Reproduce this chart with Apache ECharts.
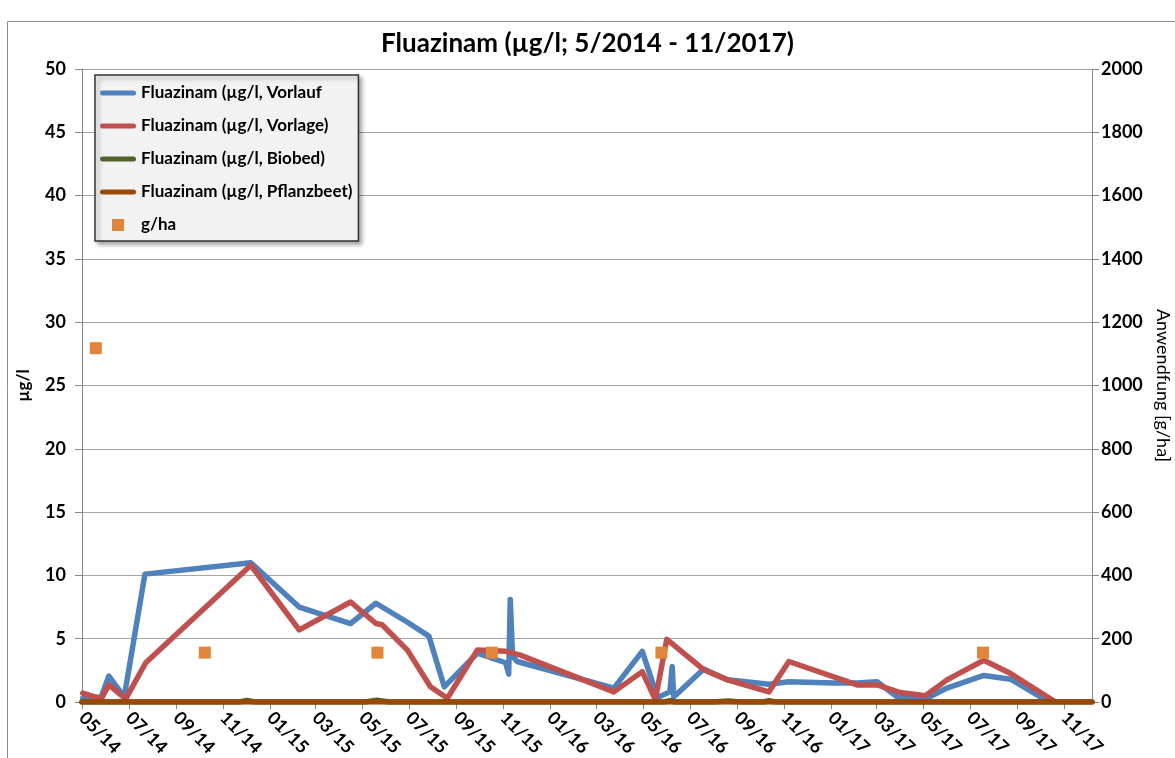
<!DOCTYPE html>
<html>
<head>
<meta charset="utf-8">
<script src="https://cdn.jsdelivr.net/npm/echarts@6/dist/echarts.min.js"></script>
<style>
  html, body { margin: 0; padding: 0; background: #fff; }
  #chart { width: 1175px; height: 758px; }
</style>
</head>
<body>
<div id="chart"></div>
<script>
// x axis tick labels (every 2 months)
const xTickLabels = ['05/14', '07/14', '09/14', '11/14', '01/15', '03/15', '05/15', '07/15', '09/15', '11/15',
  '01/16', '03/16', '05/16', '07/16', '09/16', '11/16', '01/17', '03/17', '05/17', '07/17', '09/17', '11/17'];

// Fluazinam, Vorlauf (µg/l)
const vorlauf = [
  ['2014-05-02', 0.3], ['2014-05-26', 0.4], ['2014-06-05', 2.05], ['2014-06-25', 0.4], ['2014-07-22', 10.1],
  ['2014-12-07', 11.0], ['2015-02-08', 7.5], ['2015-04-16', 6.2], ['2015-05-19', 7.8], ['2015-06-29', 6.3],
  ['2015-07-27', 5.2], ['2015-08-16', 1.2], ['2015-09-28', 3.85], ['2015-11-04', 3.1], ['2015-11-08', 2.2],
  ['2015-11-10', 8.1], ['2015-11-13', 3.6], ['2015-11-19', 3.2], ['2016-03-24', 1.1], ['2016-04-30', 4.0],
  ['2016-05-20', 0.35], ['2016-06-05', 0.8], ['2016-06-08', 2.8], ['2016-06-10', 0.4], ['2016-07-19', 2.6],
  ['2016-08-19', 1.75], ['2016-10-12', 1.4], ['2016-11-07', 1.6], ['2017-01-05', 1.5], ['2017-02-04', 1.5],
  ['2017-03-02', 1.6], ['2017-03-28', 0.4], ['2017-05-06', 0.3], ['2017-06-01', 1.1], ['2017-07-19', 2.1],
  ['2017-08-23', 1.8], ['2017-10-09', 0.1]
];

// Fluazinam, Vorlage (µg/l)
const vorlage = [
  ['2014-05-02', 0.7], ['2014-05-26', 0.25], ['2014-06-05', 1.35], ['2014-06-27', 0.25], ['2014-07-23', 3.1],
  ['2014-12-07', 10.8], ['2015-02-08', 5.7], ['2015-04-16', 7.9], ['2015-05-19', 6.2], ['2015-05-27', 6.1],
  ['2015-06-29', 4.1], ['2015-07-29', 1.2], ['2015-08-20', 0.3], ['2015-09-28', 4.1], ['2015-11-04', 4.0],
  ['2015-11-23', 3.7], ['2016-03-24', 0.8], ['2016-04-30', 2.4], ['2016-05-17', 0.2], ['2016-06-01', 4.95],
  ['2016-07-19', 2.55], ['2016-08-19', 1.75], ['2016-10-12', 0.8], ['2016-11-07', 3.2], ['2017-02-04', 1.35],
  ['2017-03-02', 1.35], ['2017-04-01', 0.75], ['2017-05-04', 0.5], ['2017-06-01', 1.75], ['2017-07-19', 3.3],
  ['2017-08-23', 2.25], ['2017-10-18', 0.1]
];

// Fluazinam, Biobed (µg/l)
const biobed = [
  ['2014-05-01', 0], ['2014-11-22', 0], ['2014-12-02', 0.12], ['2014-12-12', 0], ['2015-05-05', 0],
  ['2015-05-20', 0.15], ['2015-06-05', 0], ['2016-05-28', 0], ['2016-06-05', 0.1], ['2016-06-12', 0],
  ['2016-07-30', 0], ['2016-08-20', 0.08], ['2016-09-05', 0], ['2016-10-05', 0], ['2016-10-12', 0.1],
  ['2016-10-20', 0], ['2017-12-07', 0]
];

// Fluazinam, Pflanzbeet (µg/l)
const pflanzbeet = [
  ['2014-05-01', 0], ['2015-01-01', 0], ['2016-01-01', 0], ['2017-01-01', 0], ['2017-12-07', 0]
];

// Anwendung g/ha (right axis)
const anwendung = [
  ['2014-05-19', 1118], ['2014-10-08', 156], ['2015-05-21', 156], ['2015-10-17', 156],
  ['2016-05-25', 156], ['2017-07-18', 156]
];

const xMin = '2014-05-01';
const xMax = '2017-12-07';

function dayTime(s) {
  const p = s.split('-').map(Number);
  return new Date(p[0], p[1] - 1, p[2]).getTime();
}
function toPoints(arr) {
  return arr.map(function (d) { return [dayTime(d[0]), d[1]]; });
}
function tickToTime(lbl) {
  const p = lbl.split('/');
  return new Date(2000 + Number(p[1]), Number(p[0]) - 1, 1).getTime();
}
const tickTimes = xTickLabels.map(tickToTime);

const font = 'Lato, "Open Sans", sans-serif';
const lineIcon = 'path://M2.5,0 h31 a2.5,2.5 0 0 1 0,5 h-31 a2.5,2.5 0 0 1 0,-5z';
const squareIcon = 'path://M0,0h10v10h-10z';

const chart = echarts.init(document.getElementById('chart'), null, { renderer: 'canvas' });

function lineSeries(name, data, color) {
  return {
    name: name,
    type: 'line',
    data: toPoints(data),
    symbol: 'none',
    yAxisIndex: 0,
    lineStyle: { color: color, width: 5.5, join: 'round', cap: 'round' },
    itemStyle: { color: color },
    emphasis: { disabled: true }
  };
}

chart.setOption({
  animation: false,
  backgroundColor: '#fff',
  textStyle: { fontFamily: font },
  graphic: [{
    type: 'rect',
    shape: { x: 7.5, y: 21.5, width: 1300, height: 900 },
    style: { fill: 'none', stroke: '#8c8c8c', lineWidth: 1 },
    silent: true,
    z: -10
  }],
  title: {
    text: 'Fluazinam (µg/l; 5/2014 - 11/2017)',
    left: 'center',
    top: 26,
    textStyle: { fontFamily: font, fontSize: 26, fontWeight: 'bold', color: '#000' }
  },
  legend: {
    orient: 'vertical',
    left: 95,
    top: 75,
    padding: [8, 6, 6, 5],
    itemWidth: 36,
    itemHeight: 12,
    itemGap: 13,
    backgroundColor: '#f2f2f2',
    borderColor: '#333',
    borderWidth: 1.5,
    borderRadius: 0,
    shadowColor: 'rgba(0,0,0,0.35)',
    shadowBlur: 4,
    shadowOffsetX: 3,
    shadowOffsetY: 3,
    symbolKeepAspect: true,
    textStyle: { fontFamily: font, fontSize: 17, fontWeight: 'bold', color: '#000', lineHeight: 20 },
    data: [
      { name: 'Fluazinam (µg/l, Vorlauf', icon: lineIcon },
      { name: 'Fluazinam (µg/l, Vorlage)', icon: lineIcon },
      { name: 'Fluazinam (µg/l, Biobed)', icon: lineIcon },
      { name: 'Fluazinam (µg/l, Pflanzbeet)', icon: lineIcon },
      { name: 'g/ha', icon: squareIcon }
    ]
  },
  grid: { left: 82, right: 83, top: 69, bottom: 56, containLabel: false, outerBoundsMode: 'none' },
  xAxis: {
    type: 'value',
    min: dayTime(xMin),
    max: dayTime(xMax),
    axisLine: { show: true, onZero: false, lineStyle: { color: '#868686', width: 1 } },
    axisTick: { show: true, length: 7, lineStyle: { color: '#868686' }, customValues: tickTimes },
    axisLabel: {
      customValues: tickTimes,
      rotate: -45,
      margin: 13,
      fontFamily: font,
      fontSize: 18,
      fontWeight: 'bold',
      color: '#000',
      formatter: function (v) {
        const i = tickTimes.indexOf(v);
        return i >= 0 ? xTickLabels[i] : '';
      }
    },
    splitLine: { show: false }
  },
  yAxis: [{
    type: 'value',
    min: 0,
    max: 50,
    interval: 5,
    name: 'µg/l',
    nameLocation: 'middle',
    nameRotate: 90,
    nameGap: 50,
    nameTextStyle: { fontFamily: font, fontSize: 17, fontWeight: 'bold', color: '#000' },
    axisLine: { show: true, lineStyle: { color: '#868686' } },
    axisTick: { show: true, length: 7, inside: false, lineStyle: { color: '#868686' } },
    axisLabel: { margin: 16, fontFamily: font, fontSize: 18, fontWeight: 'bold', color: '#000' },
    splitLine: { show: true, lineStyle: { color: '#a6a6a6', width: 1 } }
  }, {
    type: 'value',
    position: 'right',
    min: 0,
    max: 2000,
    interval: 200,
    name: 'Anwendfung [g/ha]',
    nameLocation: 'middle',
    nameRotate: -90,
    nameGap: 62,
    nameTextStyle: { fontFamily: font, fontSize: 18, color: '#000' },
    axisLine: { show: true, lineStyle: { color: '#868686' } },
    axisTick: { show: true, length: 7, inside: false, lineStyle: { color: '#868686' } },
    axisLabel: {
      margin: 9, fontFamily: font, fontSize: 18, fontWeight: 'bold', color: '#000',
      formatter: function (v) { return String(v); }
    },
    splitLine: { show: false }
  }],
  series: [
    lineSeries('Fluazinam (µg/l, Vorlauf', vorlauf, '#4f81bd'),
    lineSeries('Fluazinam (µg/l, Vorlage)', vorlage, '#c0504d'),
    lineSeries('Fluazinam (µg/l, Biobed)', biobed, '#4f6228'),
    lineSeries('Fluazinam (µg/l, Pflanzbeet)', pflanzbeet, '#984807'),
    {
      name: 'g/ha',
      type: 'scatter',
      yAxisIndex: 1,
      data: toPoints(anwendung),
      symbol: 'rect',
      symbolSize: 12,
      itemStyle: { color: '#e0853a', opacity: 1 },
      emphasis: { disabled: true },
      z: 3
    }
  ]
});
</script>
</body>
</html>
